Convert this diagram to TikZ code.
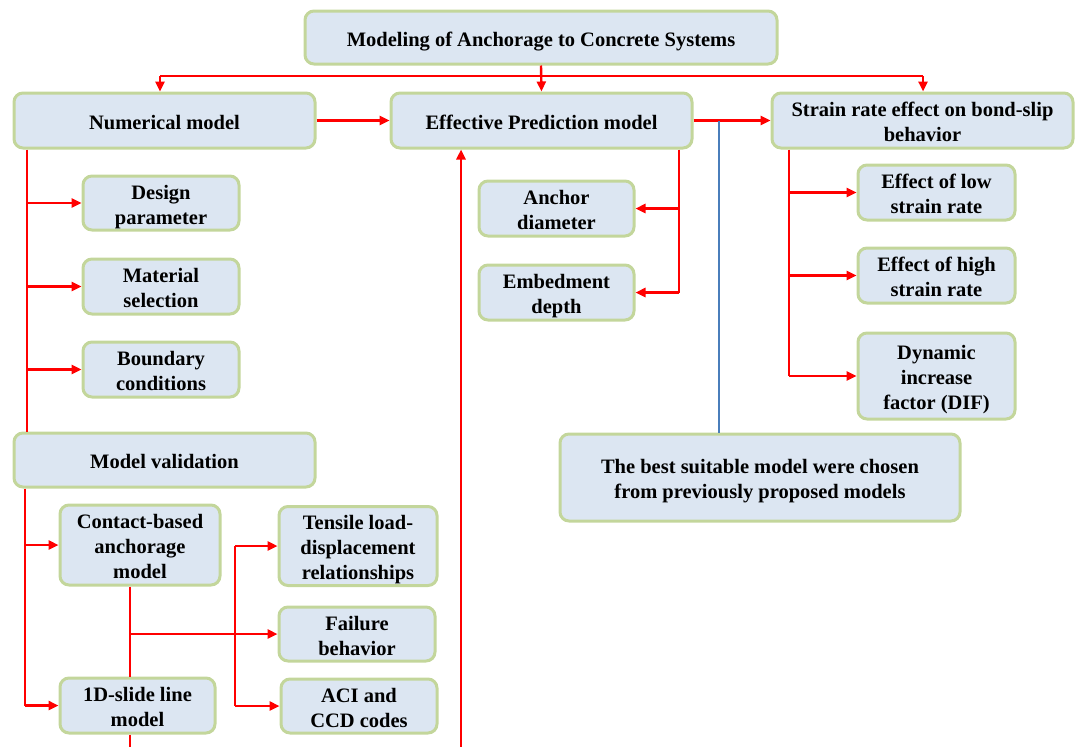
\documentclass[tikz,border=0pt]{standalone}
\usepackage{fontspec}
\setmainfont{Liberation Serif}
\usetikzlibrary{arrows.meta}
\definecolor{boxfill}{HTML}{DCE6F2}
\definecolor{boxline}{HTML}{C3D69B}
\definecolor{bluel}{HTML}{4A7EBB}
\tikzset{
  box/.style={draw=boxline, fill=boxfill, line width=3pt, rounded corners=9pt,
    align=center, inner sep=1pt,
    font=\fontsize{20.5}{25}\selectfont\bfseries},
  ln/.style={draw=red, line width=2.4pt},
  arr/.style={draw=red, line width=2.4pt, -{Triangle[length=10pt,width=9pt]}},
  bl/.style={draw=bluel, line width=1.2pt}
}
\newcommand{\bx}[6]{\node[box, minimum width=#4-#2, minimum height=#5-#3] (#1) at ({(#2+#4)/2},{(#3+#5)/2}) {\rule{0pt}{22pt}#6\rule[-5pt]{0pt}{5pt}};}
\begin{document}
\begin{tikzpicture}[x=1pt,y=-1pt]
\useasboundingbox (0,0) rectangle (1077,747);
% coordinates for free ends / trunks
\coordinate (busL) at (160,76);
\coordinate (busR) at (923,76);
\coordinate (tA) at (27,0);
\coordinate (tB) at (25,0);
\coordinate (tC) at (130,0);
\coordinate (tD) at (235,0);
\coordinate (tE) at (679,0);
\coordinate (tF) at (789,0);
\coordinate (b1) at (719,121);
\coordinate (bot1) at (130,747);
\coordinate (bot2) at (461,747);
\coordinate (jn) at (130,633);
% nodes
\bx{top}{305}{11}{777}{64}{Modeling of Anchorage to Concrete Systems}
\bx{num}{14}{93}{315}{148}{Numerical model}
\bx{eff}{391}{93}{692}{148}{Effective Prediction model}
\bx{str}{772}{93}{1073}{148}{Strain rate effect on bond-slip\\behavior}
\bx{dp}{83}{176}{239}{230}{Design\\parameter}
\bx{ms}{83}{259}{239}{314}{Material\\selection}
\bx{bc}{83}{342}{239}{397}{Boundary\\conditions}
\bx{mv}{14}{433}{315}{487}{Model validation}
\bx{cb}{60}{505}{220}{585}{Contact-based\\anchorage\\model}
\bx{sl}{60}{678}{215}{733}{1D-slide line\\model}
\bx{tl}{279}{508}{437}{584}{Tensile load-\\displacement\\relationships}
\bx{fb}{279}{607}{435}{661}{Failure\\behavior}
\bx{aci}{281}{679}{437}{733}{ACI and\\CCD codes}
\bx{ad}{479}{181}{634}{236}{Anchor\\diameter}
\bx{ed}{479}{265}{634}{320}{Embedment\\depth}
\bx{el}{858}{165}{1015}{220}{Effect of low\\strain rate}
\bx{eh}{858}{248}{1015}{303}{Effect of high\\strain rate}
\bx{dif}{858}{333}{1015}{419}{Dynamic\\increase\\factor (DIF)}
\bx{best}{560}{434}{960}{521}{The best suitable model were chosen\\from previously proposed models}
% top fan
\draw[ln] (busL) -- (busR);
\draw[arr] (top.south) -- (eff.north);
\draw[arr] (busL) -- (busL |- num.north);
\draw[arr] (busR) -- (busR |- str.north);
\draw[arr] (num.east) -- (eff.west);
\draw[arr] (eff.east) -- (str.west);
\draw[bl] (b1) -- (b1 |- best.north);
% numerical model branch
\draw[ln] (num.south -| tA) -- (mv.north -| tA);
\draw[arr] (dp.west -| tA) -- (dp.west);
\draw[arr] (ms.west -| tA) -- (ms.west);
\draw[arr] (bc.west -| tA) -- (bc.west);
% model validation branch
\draw[ln] (mv.south -| tB) -- (sl.west -| tB);
\draw[arr] (cb.west -| tB) -- (cb.west);
\draw[arr] (sl.west -| tB) -- (sl.west);
\draw[ln] (cb.south -| tC) -- (sl.north -| tC);
\draw[ln] (sl.south -| tC) -- (bot1);
\draw[arr] (fb.west -| jn) -- (fb.west);
\draw[ln] (tl.west -| tD) -- (aci.west -| tD);
\draw[arr] (tl.west -| tD) -- (tl.west);
\draw[arr] (aci.west -| tD) -- (aci.west);
% long vertical
\draw[arr] (bot2) -- (bot2 |- eff.south);
% effective branch
\draw[ln] (eff.south -| tE) -- (ed.east -| tE);
\draw[arr] (ad.east -| tE) -- (ad.east);
\draw[arr] (ed.east -| tE) -- (ed.east);
% strain rate branch
\draw[ln] (str.south -| tF) -- (dif.west -| tF);
\draw[arr] (el.west -| tF) -- (el.west);
\draw[arr] (eh.west -| tF) -- (eh.west);
\draw[arr] (dif.west -| tF) -- (dif.west);
\end{tikzpicture}
\end{document}
